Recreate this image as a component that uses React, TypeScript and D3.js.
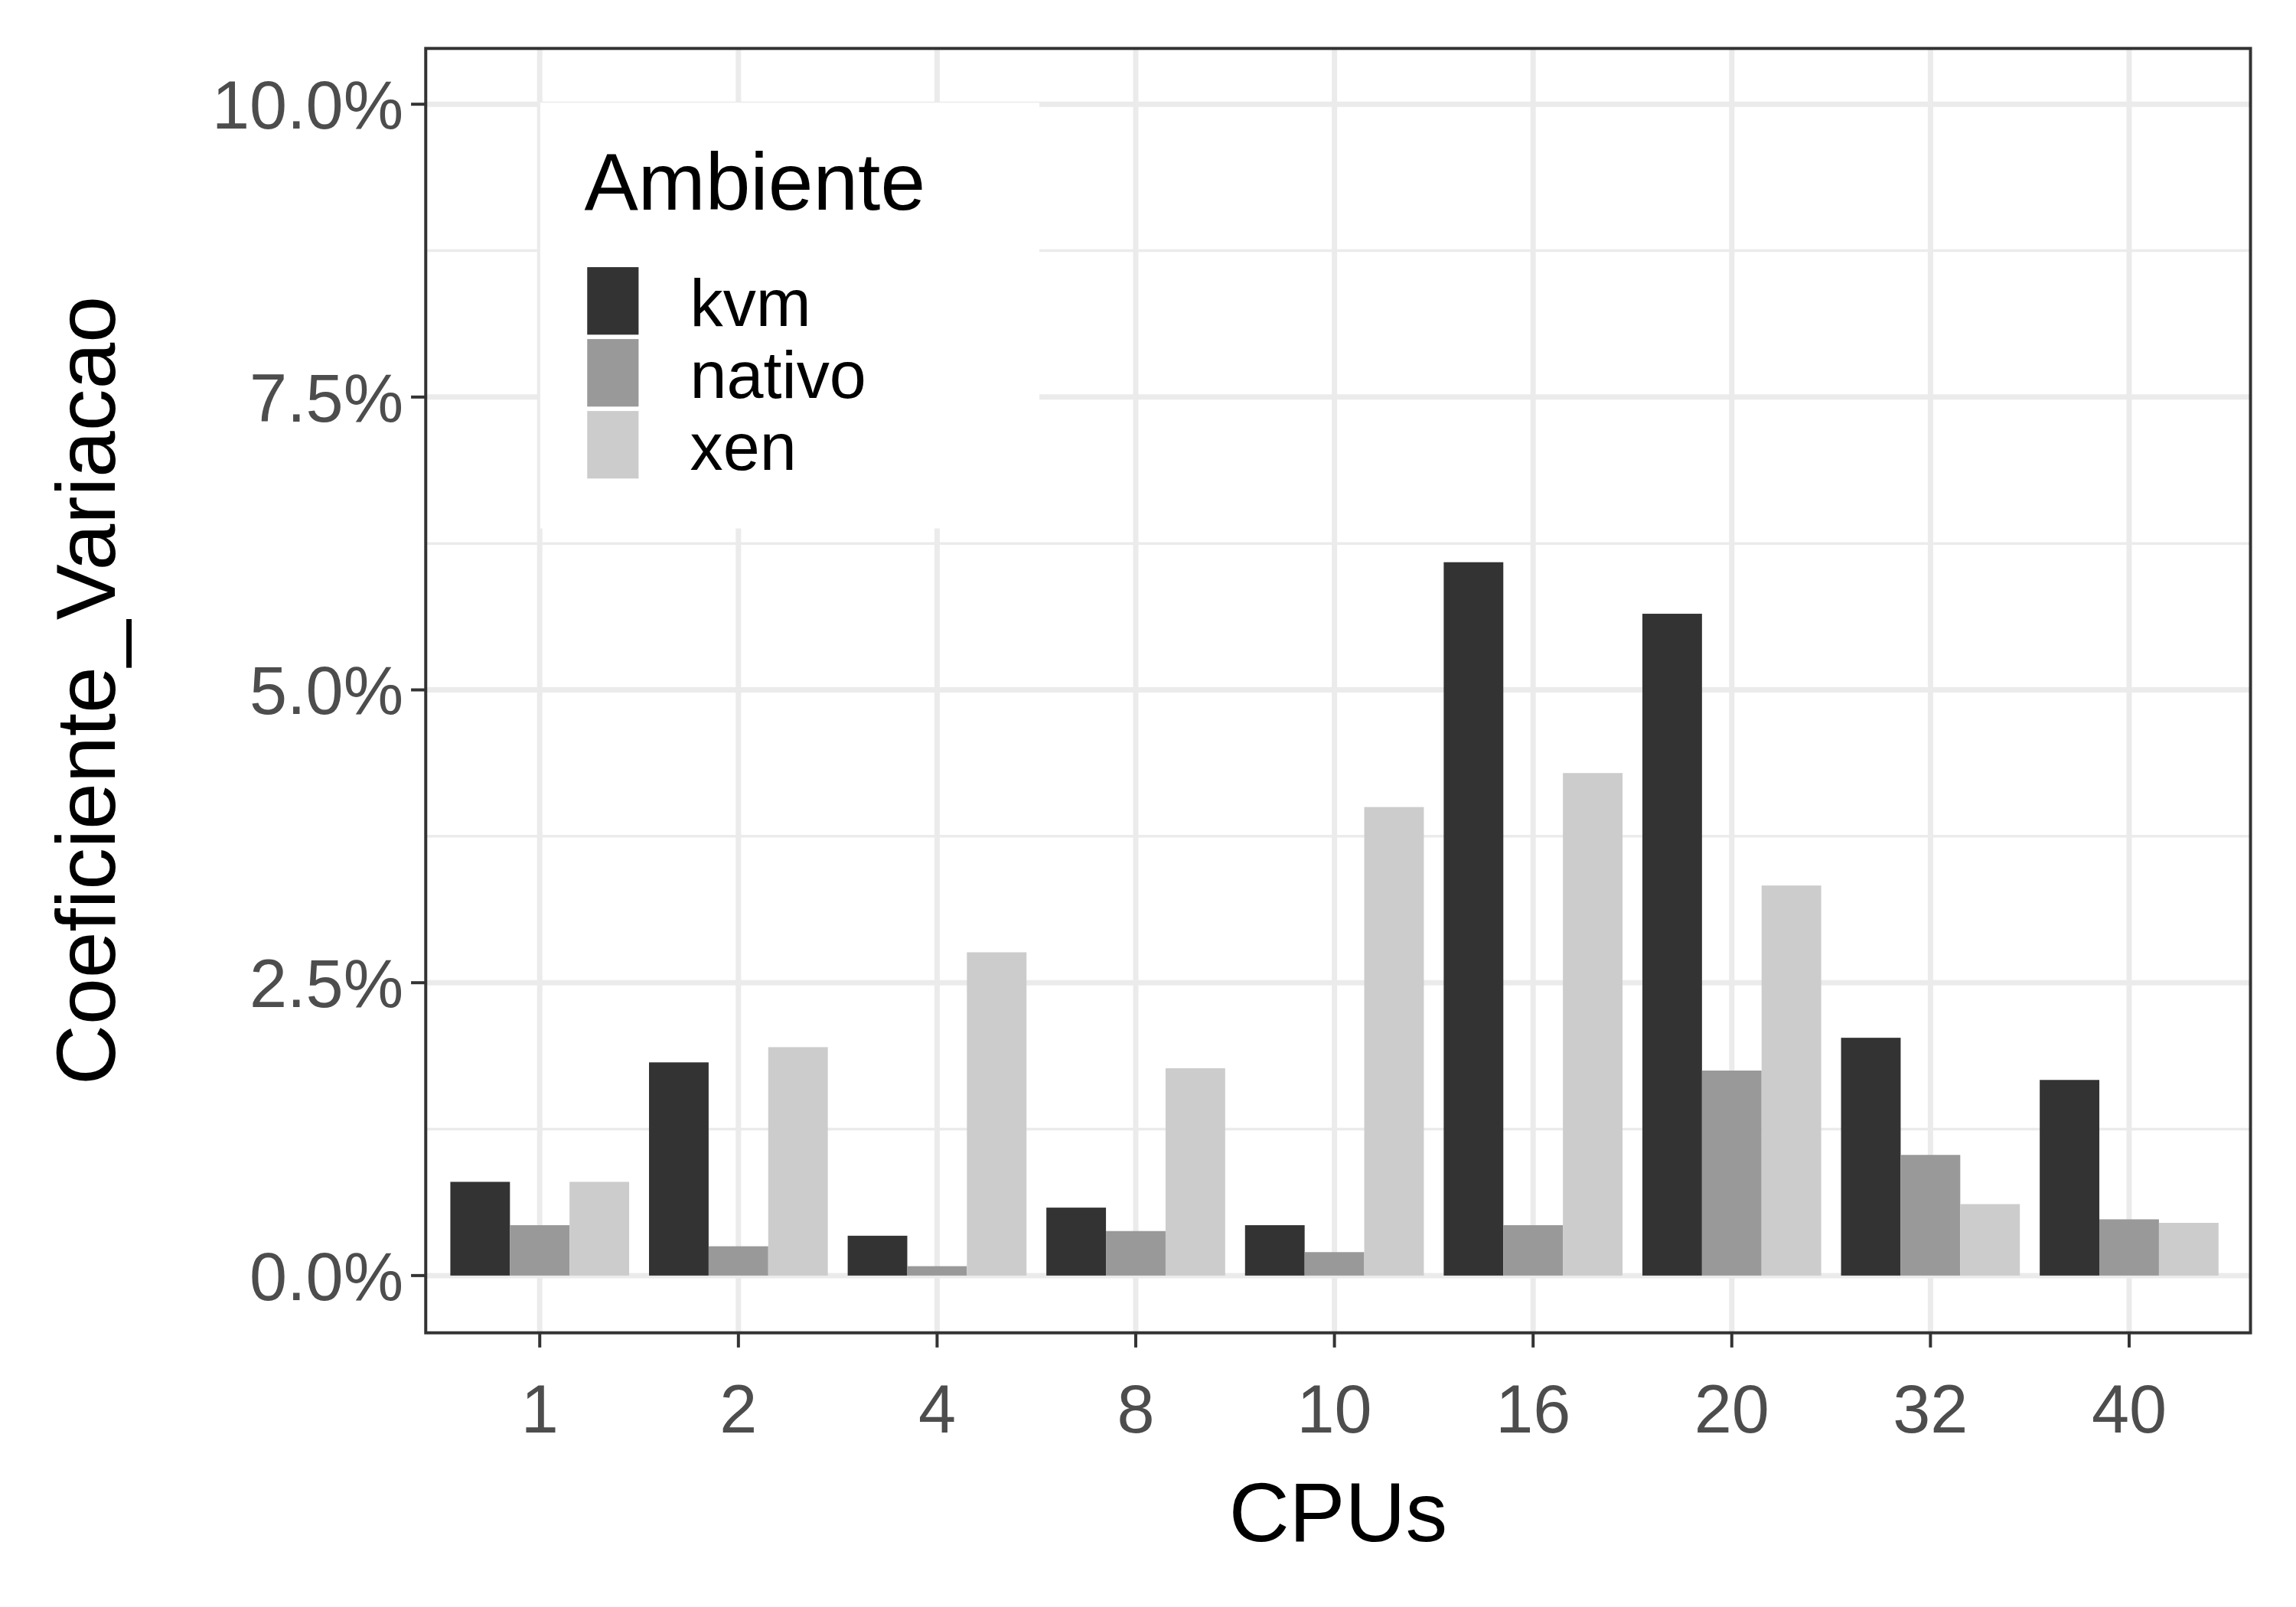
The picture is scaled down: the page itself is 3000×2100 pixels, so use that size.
import React from 'react';
import * as d3 from 'd3';

const cpus = ['1', '2', '4', '8', '10', '16', '20', '32', '40'];
const ambientes = ['kvm', 'nativo', 'xen'];
const kvm = [0.8, 1.82, 0.34, 0.58, 0.43, 6.09, 5.65, 2.03, 1.67];
const nativo = [0.43, 0.25, 0.08, 0.38, 0.2, 0.43, 1.75, 1.03, 0.48];
const xen = [0.8, 1.95, 2.76, 1.77, 4.0, 4.29, 3.33, 0.61, 0.45];
const yTicks = [0, 2.5, 5, 7.5, 10];
const yMinor = [1.25, 3.75, 6.25, 8.75];
const colors = ['#333333', '#999999', '#cccccc'];

const S = 3000 / 1564;
const panel = { left: 290 * S, right: 1533 * S, top: 33 * S, bottom: 908 * S };

export default function App() {
  const series = [kvm, nativo, xen];
  const x = d3.scaleBand().domain(cpus).range([300 * S, 1518 * S]).paddingInner(0.1).paddingOuter(0.05);
  const inner = d3.scaleBand().domain(ambientes).range([0, x.bandwidth()]);
  const y = d3.scaleLinear().domain([0, 10]).range([869 * S, 71 * S]);
  const fmt = (v: number) => v.toFixed(1) + '%';
  const font = 'Liberation Sans, Arial, sans-serif';
  const tick = 10 * S;

  return (
    <svg width={3000} height={2100} style={{ position: 'absolute', left: 0, top: 0, background: '#fff' }} fontFamily={font}>
      <rect x={0} y={0} width={3000} height={2100} fill="#fff" />
      {yMinor.map(v => (
        <line key={'m' + v} x1={panel.left} x2={panel.right} y1={y(v)} y2={y(v)} stroke="#ebebeb" strokeWidth={3.5} />
      ))}
      {yTicks.map(v => (
        <line key={'g' + v} x1={panel.left} x2={panel.right} y1={y(v)} y2={y(v)} stroke="#ebebeb" strokeWidth={7} />
      ))}
      {cpus.map(c => (
        <line key={'v' + c} x1={x(c)! + x.bandwidth() / 2} x2={x(c)! + x.bandwidth() / 2} y1={panel.top} y2={panel.bottom} stroke="#ebebeb" strokeWidth={7} />
      ))}
      {cpus.map((c, i) =>
        series.map((s, j) => (
          <rect key={c + j} x={x(c)! + inner(ambientes[j])!} width={inner.bandwidth()} y={y(s[i])} height={y(0) - y(s[i])} fill={colors[j]} />
        ))
      )}
      {/* legend */}
      <rect x={368 * S} y={70 * S} width={340 * S} height={290 * S} fill="#fff" />
      <text x={398 * S} y={143 * S} fontSize={55 * S} fill="#000">Ambiente</text>
      {ambientes.map((a, j) => (
        <g key={a}>
          <rect x={400 * S} y={(182 + j * 49) * S} width={35 * S} height={46 * S} fill={colors[j]} />
          <text x={470 * S} y={(222 + j * 49) * S} fontSize={45 * S} fill="#000">{a}</text>
        </g>
      ))}
      <rect x={panel.left} y={panel.top} width={panel.right - panel.left} height={panel.bottom - panel.top} fill="none" stroke="#333" strokeWidth={4} />
      {yTicks.map(v => (
        <g key={'t' + v}>
          <line x1={panel.left - tick} x2={panel.left} y1={y(v)} y2={y(v)} stroke="#333" strokeWidth={4} />
          <text x={panel.left - tick - 10} y={y(v)} dy="0.36em" textAnchor="end" fontSize={46 * S} fill="#4d4d4d">{fmt(v)}</text>
        </g>
      ))}
      {cpus.map(c => {
        const cx = x(c)! + x.bandwidth() / 2;
        return (
          <g key={'xt' + c}>
            <line x1={cx} x2={cx} y1={panel.bottom} y2={panel.bottom + tick} stroke="#333" strokeWidth={4} />
            <text x={cx} y={976 * S} textAnchor="middle" fontSize={46 * S} fill="#4d4d4d">{c}</text>
          </g>
        );
      })}
      <text x={(panel.left + panel.right) / 2} y={1050 * S} textAnchor="middle" fontSize={57 * S} fill="#000">CPUs</text>
      <text transform={`translate(${78 * S},${(panel.top + panel.bottom) / 2}) rotate(-90)`} textAnchor="middle" fontSize={57 * S} fill="#000">Coeficiente_Variacao</text>
    </svg>
  );
}
